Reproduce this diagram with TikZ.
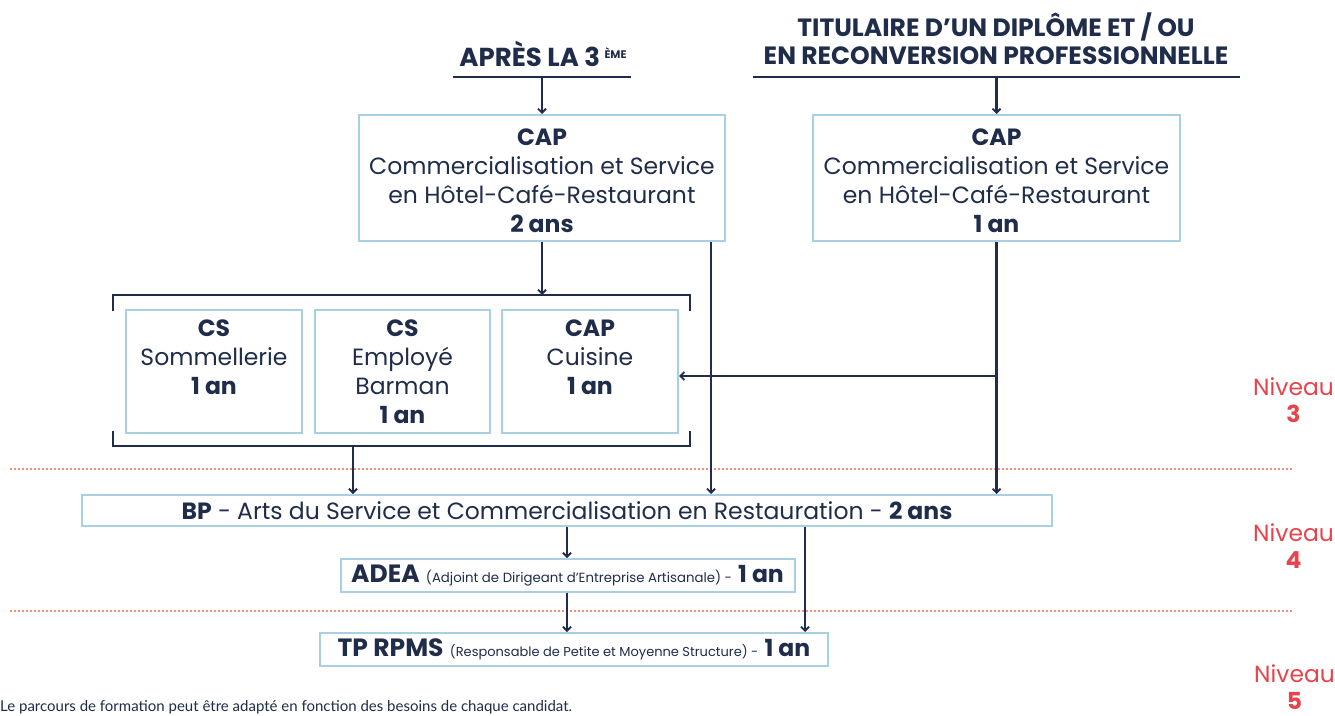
\documentclass[tikz,border=0pt]{standalone}
\usepackage{fontspec}
\setmainfont{Poppins}
\newfontfamily\footfont{Lato}
\usetikzlibrary{arrows.meta}
\definecolor{navy}{HTML}{1F2D4A}
\definecolor{boxblue}{HTML}{A9D0E2}
\definecolor{nivred}{HTML}{E8434B}
\definecolor{dotred}{HTML}{F29080}
\newcommand\mycapcontent[1]{\raisebox{-5.5pt}[\height][\depth]{\begin{tabular}{@{}c@{}}#1\end{tabular}}}
\begin{document}
\begin{tikzpicture}[x=1pt,y=-1pt,
 box/.style={draw=boxblue,line width=2pt,fill=white,inner sep=0pt,align=center,text=navy,font=\fontsize{23.5}{29}\selectfont},
 arr/.style={draw=navy,line width=2.2pt,-{Straight Barb[length=4pt,width=8pt,line width=1.8pt]}},
 ln/.style={draw=navy,line width=2.4pt},
 head/.style={text=navy,font=\fontsize{25}{28}\bfseries\selectfont,align=center,inner sep=0pt},
 niv/.style={text=nivred,font=\fontsize{23.4}{27}\selectfont,align=center,inner sep=0pt,anchor=east},
 dotl/.style={draw=dotred,line width=1.5pt,dash pattern=on 1.5pt off 2.5pt}]
\fill[white] (0,0) rectangle (1335,715);
\useasboundingbox (0,0) rectangle (1335,715);

% headers
\node[head] (h1) at (543,54) {\fontsize{26}{28}\selectfont APRÈS LA 3\,\raisebox{8pt}{\fontsize{11}{11}\selectfont ÈME}};
\node[head] (h2) at (996,39) {TITULAIRE D’UN DIPLÔME ET / OU\\EN RECONVERSION PROFESSIONNELLE};
\draw[ln] (453,77) -- (631,77);
\draw[ln] (753,77) -- (1240,77);
\coordinate (u1) at (542,77);
\coordinate (u2) at (996.5,77);

% CAP boxes
\node[box,minimum width=366,minimum height=126] (cap1) at (542,178)
 {\mycapcontent{\textbf{CAP}\\Commercialisation et Service\\en Hôtel-Café-Restaurant\\\textbf{2 ans}}};
\node[box,minimum width=367,minimum height=126] (cap2) at (996.5,178)
 {\mycapcontent{\textbf{CAP}\\Commercialisation et Service\\en Hôtel-Café-Restaurant\\\textbf{1 an}}};
\draw[arr] (u1) -- (cap1.north);
\draw[arr] (u2) -- (cap2.north);

% bracket
\draw[ln] (113,311) -- (113,295) -- (690,295) -- (690,311);
\draw[ln] (113,431) -- (113,446) -- (690,446) -- (690,431);
\coordinate (bt) at (542,295);
\coordinate (bb) at (353,446);
\draw[arr] (cap1.south) -- (bt);

% CS boxes
\node[box,minimum width=176,minimum height=123] (cs1) at (214,371.5)
 {\textbf{CS}\\Sommellerie\\\textbf{1 an}\\\mbox{}};
\node[box,minimum width=175,minimum height=123] (cs2) at (402.5,371.5)
 {\textbf{CS}\\Employé\\Barman\\\textbf{1 an}};
\node[box,minimum width=176,minimum height=123] (cs3) at (590,371.5)
 {\textbf{CAP}\\Cuisine\\\textbf{1 an}\\\mbox{}};

% level separators
\draw[dotl] (10,469) -- (1293,469);
\draw[dotl] (10,611) -- (1293,611);

% BP
\node[box,minimum width=970,minimum height=31] (bp) at (567,510.5)
 {\textbf{BP} - Arts du Service et Commercialisation en Restauration - \textbf{2 ans}};
\coordinate (c711) at (711,0);
\coordinate (c805) at (805,0);
\coordinate (c376) at (0,376);
\draw[arr] (bb) -- (bp.north -| bb);
\draw[arr] (cap1.south -| c711) -- (bp.north -| c711);
\draw[arr] (cap2.south) -- (bp.north -| cap2.south);
\draw[arr] (cap2.south |- c376) -- (cs3.east |- c376);

% ADEA & TP
\node[box,minimum width=454,minimum height=33] (adea) at (567.5,575.5)
 {{\fontsize{25}{24}\bfseries ADEA} {\fontsize{13.3}{13}\selectfont (Adjoint de Dirigeant d'Entreprise Artisanale) -} {\bfseries 1 an}};
\node[box,minimum width=508,minimum height=33] (tp) at (574,649.5)
 {{\fontsize{25}{24}\bfseries TP RPMS} {\fontsize{13}{13}\selectfont (Responsable de Petite et Moyenne Structure) -} {\bfseries 1 an}};
\draw[arr] (bp.south) -- (adea.north -| bp.south);
\draw[arr] (adea.south -| bp.south) -- (tp.north -| bp.south);
\draw[arr] (bp.south -| c805) -- (tp.north -| c805);

% levels
\node[niv] (n3) at (1334,400) {Niveau\\\textbf{3}};
\node[niv] (n4) at (1334,546) {Niveau\\\textbf{4}};
\node[niv] (n5) at (1335,687) {Niveau\\\textbf{5}};

% footer
\node[anchor=west,inner sep=0pt,text=navy,font=\footfont\fontsize{15}{16}\selectfont] (foot) at (0,707)
 {Le parcours de formation peut être adapté en fonction des besoins de chaque candidat.};
\end{tikzpicture}
\end{document}
